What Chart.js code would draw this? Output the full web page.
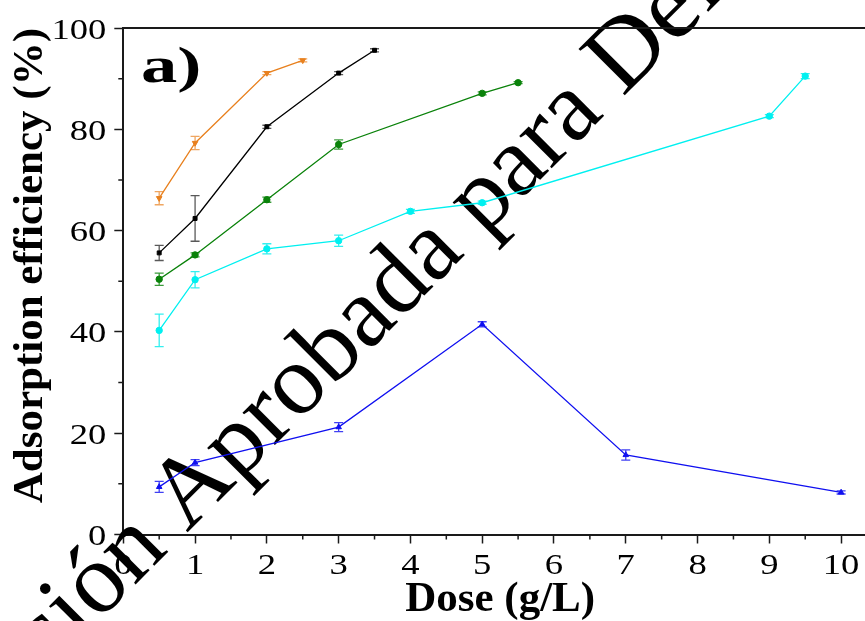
<!DOCTYPE html>
<html>
<head>
<meta charset="utf-8">
<script src="https://cdn.jsdelivr.net/npm/chart.js@4.4.1/dist/chart.umd.min.js"></script>
<style>
  html, body { margin: 0; padding: 0; background: #fff; overflow: hidden; }
  #wrap { width: 865px; height: 621px; overflow: hidden; }
</style>
</head>
<body>
<div id="wrap"><canvas id="dose" width="890" height="621"></canvas></div>
<script>
  // dose (g/L), adsorption efficiency (%) and standard deviation per series
  const doseOrange = [0.5, 1, 2, 2.5];
  const effOrange = [66.4, 77.3, 91.1, 93.6];
  const errOrange = [1.3, 1.3, 0.3, 0.3];

  const doseBlack = [0.5, 1, 2, 3, 3.5];
  const effBlack = [55.6, 62.4, 80.5, 91.1, 95.6];
  const errBlack = [1.5, 4.5, 0.3, 0.3, 0.3];

  const doseGreen = [0.5, 1, 2, 3, 5, 5.5];
  const effGreen = [50.4, 55.2, 66.1, 77.0, 87.1, 89.2];
  const errGreen = [1.2, 0.4, 0.5, 0.9, 0.3, 0.2];

  const doseCyan = [0.5, 1, 2, 3, 4, 5, 9, 9.5];
  const effCyan = [40.3, 50.3, 56.4, 58.0, 63.8, 65.5, 82.6, 90.5];
  const errCyan = [3.2, 1.6, 1.0, 1.1, 0.4, 0.3, 0.3, 0.5];

  const doseBlue = [0.5, 1, 3, 5, 7, 10];
  const effBlue = [9.4, 14.2, 21.2, 41.5, 15.7, 8.3];
  const errBlue = [1.1, 0.6, 0.9, 0.5, 1.0, 0.3];

  const xTicks = [0, 1, 2, 3, 4, 5, 6, 7, 8, 9, 10];
  const yTicks = [0, 20, 40, 60, 80, 100];

  const SERIF = "'Liberation Serif', 'Times New Roman', serif";
  const WIDEN = 1.22; // tick numerals are set a little wide

  function series(xs, ys, errs, color, barColor, style, rotation) {
    return {
      data: xs.map((x, i) => ({ x, y: ys[i] })),
      errors: errs,
      barColor,
      borderColor: color,
      backgroundColor: color,
      borderWidth: 1.3,
      pointStyle: style,
      pointRotation: rotation || 0,
      pointRadius: style === "rect" ? 2.8 : 3.2,
      pointBorderWidth: 1,
      tension: 0,
      fill: false,
    };
  }

  // text stamped diagonally across the plot, beneath the data
  const watermark = {
    id: "watermark",
    beforeDatasetsDraw(chart) {
      const c = chart.ctx;
      c.save();
      c.translate(187, 533);
      c.rotate(-Math.PI / 4);
      c.font = "100px " + SERIF;
      c.fillStyle = "#000";
      c.textBaseline = "alphabetic";
      c.textAlign = "left";
      c.fillText("Aprobada para Defensa", 0, 0);
      c.textAlign = "right";
      c.fillText("Versión ", 0, 0);
      c.restore();
    },
  };

  // vertical error bars with caps, drawn from each dataset's errors array
  const errorBars = {
    id: "errorBars",
    beforeDatasetsDraw(chart) {
      const c = chart.ctx;
      const xs = chart.scales.x, ys = chart.scales.y;
      c.save();
      chart.data.datasets.forEach(ds => {
        c.strokeStyle = ds.barColor;
        c.lineWidth = 1.3;
        ds.data.forEach((p, i) => {
          const e = ds.errors[i];
          const px = xs.getPixelForValue(p.x);
          const top = ys.getPixelForValue(p.y + e);
          const bot = ys.getPixelForValue(p.y - e);
          c.beginPath();
          c.moveTo(px, top); c.lineTo(px, bot);
          c.moveTo(px - 4.5, top); c.lineTo(px + 4.5, top);
          c.moveTo(px - 4.5, bot); c.lineTo(px + 4.5, bot);
          c.stroke();
        });
      });
      c.restore();
    },
  };

  function wideText(c, text, x, y, align, sx) {
    c.save();
    c.translate(x, y);
    c.scale(sx, 1);
    c.textAlign = align;
    c.fillText(text, 0, 0);
    c.restore();
  }

  // frame on top/right, minor ticks, tick numerals and the panel letter
  const frame = {
    id: "frame",
    afterDraw(chart) {
      const c = chart.ctx;
      const a = chart.chartArea;
      const xs = chart.scales.x, ys = chart.scales.y;
      c.save();
      c.strokeStyle = "#1a1a1a";
      c.lineWidth = 2;
      c.beginPath();
      c.moveTo(a.left, a.top); c.lineTo(a.right, a.top); c.lineTo(a.right, a.bottom);
      c.stroke();
      c.lineWidth = 1.5;
      c.beginPath();
      for (let v = 0.5; v < 10.5; v += 1) {
        const px = xs.getPixelForValue(v);
        c.moveTo(px, a.bottom); c.lineTo(px, a.bottom + 5);
      }
      for (let v = 10; v < 100; v += 20) {
        const py = ys.getPixelForValue(v);
        c.moveTo(a.left, py); c.lineTo(a.left - 5, py);
      }
      c.stroke();

      c.fillStyle = "#000";
      c.font = "30px " + SERIF;
      c.textBaseline = "alphabetic";
      xTicks.forEach(v => wideText(c, String(v), xs.getPixelForValue(v), a.bottom + 39, "center", WIDEN));
      yTicks.forEach(v => wideText(c, String(v), a.left - 17, ys.getPixelForValue(v) + 10.5, "right", WIDEN));

      c.font = "bold 50px " + SERIF;
      wideText(c, "a)", 141, 82, "left", 1.45);
      c.restore();
    },
  };

  const ctx = document.getElementById("dose").getContext("2d");
  new Chart(ctx, {
    type: "line",
    data: {
      datasets: [
        series(doseOrange, effOrange, errOrange, "#E8801E", "rgba(232,128,30,0.7)", "triangle", 180),
        series(doseBlack, effBlack, errBlack, "#000000", "rgba(0,0,0,0.65)", "rect"),
        series(doseGreen, effGreen, errGreen, "#0A820A", "rgba(10,130,10,0.8)", "circle"),
        series(doseCyan, effCyan, errCyan, "#00F0F0", "rgba(0,235,235,0.8)", "circle"),
        series(doseBlue, effBlue, errBlue, "#1010F0", "rgba(16,16,240,0.8)", "triangle"),
      ],
    },
    options: {
      responsive: false,
      animation: false,
      layout: { padding: { top: 28, right: 13, left: 0, bottom: 0 } },
      plugins: { legend: { display: false }, tooltip: { enabled: false } },
      scales: {
        x: {
          type: "linear",
          min: 0,
          max: 10.5,
          afterFit: s => { s.height = 86.5; },
          afterBuildTicks: s => { s.ticks = xTicks.map(v => ({ value: v })); },
          ticks: { display: false },
          grid: { drawOnChartArea: false, tickLength: 9, tickWidth: 1.5, tickColor: "#1a1a1a" },
          border: { color: "#1a1a1a", width: 2 },
          title: {
            display: true,
            text: "Dose (g/L)",
            color: "#000",
            font: { family: SERIF, size: 43, weight: "bold" },
            padding: { top: 0, bottom: -5 },
          },
        },
        y: {
          min: 0,
          max: 100,
          afterFit: s => { s.width = 123.3; },
          afterBuildTicks: s => { s.ticks = yTicks.map(v => ({ value: v })); },
          ticks: { display: false },
          grid: { drawOnChartArea: false, tickLength: 9, tickWidth: 1.5, tickColor: "#1a1a1a" },
          border: { color: "#1a1a1a", width: 2 },
          title: {
            display: true,
            text: "Adsorption efficiency (%)",
            align: "end",
            color: "#000",
            font: { family: SERIF, size: 43, weight: "bold" },
            padding: { top: 5, bottom: 0 },
          },
        },
      },
    },
    plugins: [watermark, errorBars, frame],
  });
</script>
</body>
</html>
